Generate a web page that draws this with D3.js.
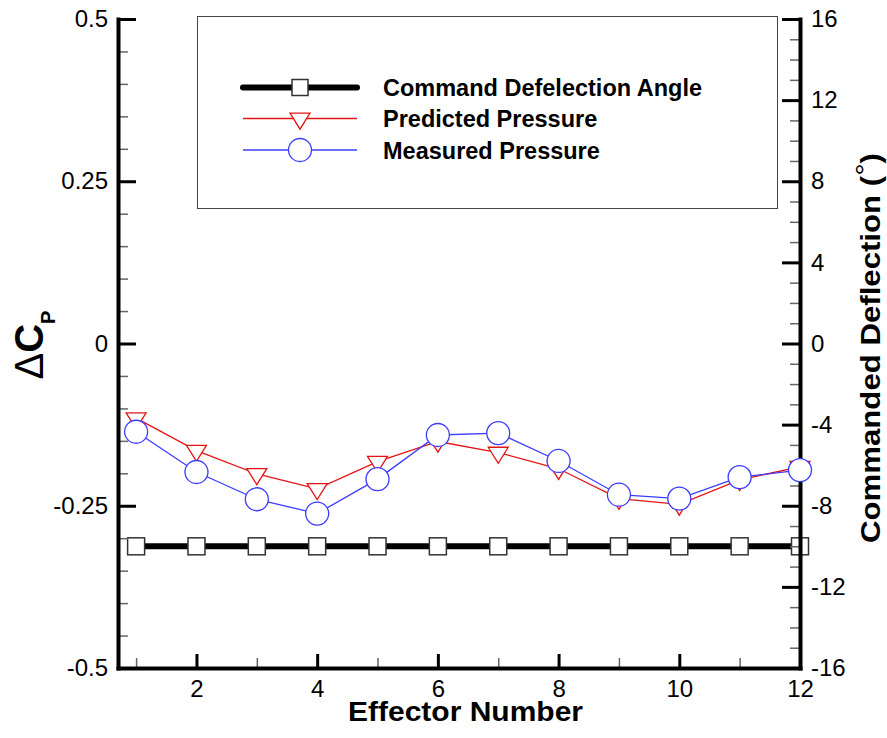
<!DOCTYPE html>
<html>
<head>
<meta charset="utf-8">
<script src="https://cdn.jsdelivr.net/npm/d3@7"></script>
<style>
  body { margin: 0; background: #fff; }
  text { font-family: "Liberation Sans", Arial, Helvetica, sans-serif; }
</style>
</head>
<body>
<div id="visContainer"></div>
<script>
// data
const effectors = [1, 2, 3, 4, 5, 6, 7, 8, 9, 10, 11, 12];
const commandDeflection = [-10, -10, -10, -10, -10, -10, -10, -10, -10, -10, -10, -10];
const predictedPressure = [-0.115, -0.165, -0.201, -0.224, -0.182, -0.151, -0.168, -0.193, -0.239, -0.248, -0.210, -0.190];
const measuredPressure = [-0.136, -0.198, -0.240, -0.262, -0.209, -0.141, -0.138, -0.181, -0.233, -0.239, -0.206, -0.195];

const leftTicks = [-0.5, -0.25, 0, 0.25, 0.5];
const leftTickLabels = ["-0.5", "-0.25", "0", "0.25", "0.5"];
const rightTicks = [-16, -12, -8, -4, 0, 4, 8, 12, 16];
const bottomTicks = [2, 4, 6, 8, 10, 12];
const bottomMinorTicks = [1, 3, 5, 7, 9, 11];

const legendNames = ["Command Defelection Angle", "Predicted Pressure", "Measured Pressure"];

function renderVisualisation() {
    const width = 887;
    const height = 738;
    const left = 118, right = 800, top = 19, bottom = 668;

    const x = d3.scaleLinear().domain([0.7, 12]).range([left, right]);
    const yL = d3.scaleLinear().domain([-0.5, 0.5]).range([bottom, top]);
    const yR = d3.scaleLinear().domain([-16, 16]).range([bottom, top]);

    const red = "#e41414";
    const blue = "#3c3cff";

    const svg = d3.select("#visContainer").append("svg")
        .attr("width", width)
        .attr("height", height)
        .style("display", "block")
        .style("background", "#fff");

    // black command deflection series (right axis)
    svg.append("path")
        .datum(effectors)
        .attr("fill", "none")
        .attr("stroke", "#000")
        .attr("stroke-width", 6)
        .attr("d", d3.line().x(d => x(d)).y((d, i) => yR(commandDeflection[i])));

    svg.append("g")
        .selectAll("rect")
        .data(effectors)
        .join("rect")
        .attr("x", d => x(d) - 8.5)
        .attr("y", (d, i) => yR(commandDeflection[i]) - 8.5)
        .attr("width", 17)
        .attr("height", 17)
        .attr("fill", "#fff")
        .attr("stroke", "#333")
        .attr("stroke-width", 1.5);

    // axes
    function styleAxis(g, major) {
        g.attr("font-size", null).attr("font-family", null);
        g.select(".domain").attr("stroke", "#000").attr("stroke-width", 4).attr("stroke-linecap", "square");
        g.selectAll(".tick line")
            .attr("stroke", major ? "#000" : "#666")
            .attr("stroke-width", major ? 3 : 1.5);
        g.selectAll(".tick text").attr("fill", "#000").style("font-size", "24px");
    }

    const minorLeft = d3.range(-10, 11).map(d => d * 0.05).filter(d => Math.abs((d * 4) - Math.round(d * 4)) > 1e-6);
    const minorRight = d3.range(-16, 17).filter(d => d % 4 !== 0);

    svg.append("g").attr("transform", `translate(${left},0)`)
        .call(d3.axisLeft(yL).tickValues(minorLeft).tickFormat("").tickSizeInner(-10).tickSizeOuter(0))
        .call(g => { styleAxis(g, false); g.select(".domain").remove(); });
    svg.append("g").attr("transform", `translate(${right},0)`)
        .call(d3.axisRight(yR).tickValues(minorRight).tickFormat("").tickSizeInner(-10).tickSizeOuter(0))
        .call(g => { styleAxis(g, false); g.select(".domain").remove(); });
    svg.append("g").attr("transform", `translate(0,${bottom})`)
        .call(d3.axisBottom(x).tickValues(bottomMinorTicks).tickFormat("").tickSizeInner(-10).tickSizeOuter(0))
        .call(g => { styleAxis(g, false); g.select(".domain").remove(); });

    svg.append("g").attr("transform", `translate(${left},0)`)
        .call(d3.axisLeft(yL).tickValues(leftTicks).tickFormat((d, i) => leftTickLabels[i])
            .tickSizeInner(-18).tickSizeOuter(0).tickPadding(10))
        .call(g => styleAxis(g, true));
    svg.append("g").attr("transform", `translate(${right},0)`)
        .call(d3.axisRight(yR).tickValues(rightTicks).tickFormat(d => d)
            .tickSizeInner(-18).tickSizeOuter(0).tickPadding(11))
        .call(g => styleAxis(g, true));
    svg.append("g").attr("transform", `translate(0,${bottom})`)
        .call(d3.axisBottom(x).tickValues(bottomTicks).tickFormat(d => d)
            .tickSizeInner(-14).tickSizeOuter(0).tickPadding(12))
        .call(g => styleAxis(g, true));

    // predicted pressure (red, down triangles)
    const tri = "M-10,-5.3L10,-5.3L0,10.7Z";
    svg.append("path")
        .datum(effectors)
        .attr("fill", "none")
        .attr("stroke", red)
        .attr("stroke-width", 1.3)
        .attr("d", d3.line().x(d => x(d)).y((d, i) => yL(predictedPressure[i])));
    svg.append("g")
        .selectAll("path")
        .data(effectors)
        .join("path")
        .attr("transform", (d, i) => `translate(${x(d)},${yL(predictedPressure[i])})`)
        .attr("d", tri)
        .attr("fill", "#fff")
        .attr("stroke", red)
        .attr("stroke-width", 1.3);

    // measured pressure (blue circles)
    svg.append("path")
        .datum(effectors)
        .attr("fill", "none")
        .attr("stroke", blue)
        .attr("stroke-width", 1.3)
        .attr("d", d3.line().x(d => x(d)).y((d, i) => yL(measuredPressure[i])));
    svg.append("g")
        .selectAll("circle")
        .data(effectors)
        .join("circle")
        .attr("cx", d => x(d))
        .attr("cy", (d, i) => yL(measuredPressure[i]))
        .attr("r", 11.5)
        .attr("fill", "#fff")
        .attr("stroke", blue)
        .attr("stroke-width", 1.3);

    // axis titles
    const yTitle = svg.append("text")
        .attr("transform", "translate(43,345) rotate(-90)")
        .attr("text-anchor", "middle")
        .style("font-size", "40px")
        .style("font-weight", "bold");
    yTitle.append("tspan")
        .style("font-weight", "normal")
        .text("\u0394");
    yTitle.append("tspan").text("C");
    yTitle.append("tspan")
        .attr("dy", 12)
        .style("font-size", "20px")
        .text("P");

    const rTitle = svg.append("text")
        .attr("transform", "translate(880,348) rotate(-90)")
        .attr("text-anchor", "middle")
        .attr("textLength", 390)
        .attr("lengthAdjust", "spacingAndGlyphs")
        .style("font-size", "28px")
        .style("font-weight", "bold");
    rTitle.append("tspan").text("Commanded Deflection (");
    rTitle.append("tspan").attr("dy", -5).style("font-weight", "normal").text("\u00B0");
    rTitle.append("tspan").attr("dy", 5).text(")");

    svg.append("text")
        .attr("x", 465.5)
        .attr("y", 721)
        .attr("text-anchor", "middle")
        .attr("textLength", 235)
        .attr("lengthAdjust", "spacingAndGlyphs")
        .style("font-size", "28px")
        .style("font-weight", "bold")
        .text("Effector Number");

    // legend
    const legend = svg.append("g");
    legend.append("rect")
        .attr("x", 197.5).attr("y", 16.5)
        .attr("width", 580).attr("height", 192)
        .attr("fill", "#fff")
        .attr("stroke", "#444")
        .attr("stroke-width", 1);

    const rowY = [87.5, 118.5, 150];
    const legendStyle = [
        { stroke: "#000", width: 6, cap: "round" },
        { stroke: red, width: 1.3, cap: "butt" },
        { stroke: blue, width: 1.3, cap: "butt" }
    ];
    const rows = legend.selectAll("g.row")
        .data(legendNames)
        .join("g")
        .attr("class", "row")
        .attr("transform", (d, i) => `translate(0,${rowY[i]})`);

    rows.append("line")
        .attr("x1", 243).attr("x2", 357)
        .attr("stroke", (d, i) => legendStyle[i].stroke)
        .attr("stroke-width", (d, i) => legendStyle[i].width)
        .attr("stroke-linecap", (d, i) => legendStyle[i].cap);

    rows.filter((d, i) => i === 0).append("rect")
        .attr("x", 300 - 8).attr("y", -8)
        .attr("width", 16).attr("height", 16)
        .attr("fill", "#fff").attr("stroke", "#333").attr("stroke-width", 1.5);
    rows.filter((d, i) => i === 1).append("path")
        .attr("transform", "translate(300,0)")
        .attr("d", tri)
        .attr("fill", "#fff").attr("stroke", red).attr("stroke-width", 1.3);
    rows.filter((d, i) => i === 2).append("circle")
        .attr("cx", 300).attr("r", 11.5)
        .attr("fill", "#fff").attr("stroke", blue).attr("stroke-width", 1.3);

    rows.append("text")
        .attr("x", 383)
        .attr("y", 8.5)
        .style("font-size", "23.5px")
        .style("font-weight", "bold")
        .text(d => d);
}

renderVisualisation();
</script>
</body>
</html>
